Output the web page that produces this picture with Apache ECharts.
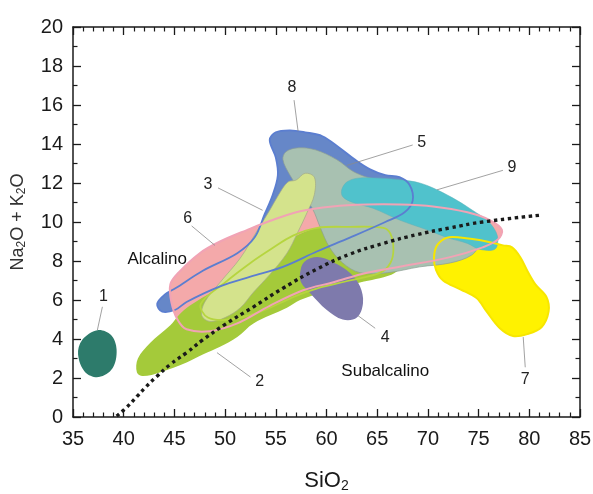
<!DOCTYPE html>
<html>
<head>
<meta charset="utf-8">
<script src="https://cdn.jsdelivr.net/npm/echarts@6/dist/echarts.min.js"></script>
<style>
  html, body { margin: 0; padding: 0; background: #fff; }
  #chart { width: 593px; height: 494px; }
</style>
</head>
<body>
<div id="chart"></div>
<script>
// field outlines, [SiO2, Na2O + K2O]
const field1 = [[37.4, 4.45], [38.75, 4.2], [39.3, 3.45], [38.9, 2.5], [37.55, 2.05], [36.2, 2.3], [35.5, 3.2], [35.9, 3.95]]
const field2 = [[41.3, 2.3], [41.4, 3.0], [42.6, 3.8], [44.6, 4.7], [45.4, 5.2], [46.5, 5.7], [49.0, 6.5], [51.5, 7.3],
  [53.9, 8.15], [56.4, 9.1], [58.4, 9.6], [60.5, 9.8], [64.0, 9.8], [66.8, 9.7], [67.3, 9.3], [67.6, 8.5], [67.3, 7.7],
  [66.4, 7.3], [63.3, 6.9], [60.3, 6.5], [57.4, 6.0], [56.1, 5.6], [52.8, 4.8], [51.2, 4.1], [49.5, 3.6], [47.8, 3.2],
  [46.2, 2.8], [43.6, 2.3], [41.9, 2.1]]
const field2Line = [[47.6, 5.8], [50.0, 6.9], [52.5, 7.9], [54.5, 8.6], [56.7, 9.3], [59.1, 9.7], [62.3, 9.75], [65.6, 9.7],
  [66.3, 9.4], [66.6, 8.6], [66.3, 7.9], [65.3, 7.4], [62.3, 7.0], [59.1, 6.6], [56.7, 6.15], [53.5, 5.4], [50.5, 5.0], [48.3, 5.1]]
const field3 = [[57.0, 12.15], [57.9, 12.5], [58.8, 12.3], [58.8, 11.4], [58.1, 10.5], [57.1, 9.4], [56.1, 8.4], [54.4, 7.3],
  [52.8, 6.4], [51.5, 5.6], [50.0, 5.1], [48.5, 4.9], [47.7, 5.2], [48.0, 5.9], [49.5, 6.9], [51.5, 8.15], [53.1, 9.5],
  [54.4, 10.6], [55.4, 11.5], [56.2, 12.05]]
const field4 = [[57.4, 7.4], [57.8, 7.95], [59.1, 8.2], [60.6, 7.95], [62.3, 7.4], [63.3, 6.7], [63.6, 5.85], [63.0, 5.1],
  [61.6, 5.0], [60.0, 5.5], [58.4, 6.35], [57.5, 6.9]]
const field5 = [[55.7, 13.2], [56.0, 13.6], [57.1, 13.8], [58.9, 13.7], [61.0, 13.2], [62.6, 12.6], [64.0, 12.3], [67.2, 11.9],
  [71.2, 10.9], [74.2, 9.8], [74.9, 8.8], [74.3, 8.3], [72.2, 7.9], [69.2, 7.7], [66.0, 7.4], [63.3, 7.4], [61.6, 7.9],
  [60.3, 8.7], [59.4, 9.7], [58.6, 10.7], [57.4, 11.6], [56.4, 12.4]]
const field6 = [[44.6, 6.8], [45.4, 7.4], [47.5, 8.4], [49.5, 9.0], [52.2, 9.6], [54.4, 10.05], [57.4, 10.55], [60.6, 10.8],
  [64.0, 10.9], [67.2, 10.9], [70.5, 10.8], [73.9, 10.5], [76.1, 10.1], [77.3, 9.6], [76.9, 9.1], [75.4, 8.7], [72.2, 8.2],
  [67.2, 7.7], [64.0, 7.4], [60.6, 6.9], [57.7, 6.5], [54.4, 5.7], [51.2, 4.8], [48.5, 4.4], [46.2, 4.5], [45.3, 5.0], [44.7, 5.9]]
const field7 = [[70.9, 8.8], [71.9, 9.2], [73.2, 9.2], [75.8, 9.0], [77.4, 8.8], [78.3, 8.7], [79.1, 8.2], [79.8, 7.5],
  [80.6, 6.8], [81.7, 6.15], [81.9, 5.4], [81.2, 4.6], [79.8, 4.25], [78.4, 4.15], [77.1, 4.55], [75.8, 5.4], [74.8, 6.1],
  [73.2, 6.55], [71.5, 7.0], [70.8, 7.55], [70.6, 8.15]]
const field8 = [[54.4, 14.2], [55.0, 14.6], [56.4, 14.7], [57.9, 14.6], [59.6, 14.4], [61.3, 13.8], [62.8, 13.2], [64.3, 12.7],
  [65.8, 12.4], [67.2, 12.3], [68.2, 11.9], [68.5, 11.1], [67.7, 10.5], [65.8, 10.0], [62.3, 9.2], [59.1, 8.5], [55.7, 7.7],
  [52.5, 7.2], [49.5, 6.7], [46.2, 5.9], [45.1, 5.5], [43.8, 5.4], [43.3, 5.8], [44.1, 6.3], [45.1, 6.6], [47.8, 7.5],
  [51.2, 8.4], [52.9, 9.2], [53.9, 10.4], [54.7, 11.4], [55.2, 12.4], [55.0, 13.3]]
const field9 = [[61.5, 11.65], [62.0, 12.05], [63.1, 12.25], [65.3, 12.25], [67.5, 12.15], [69.2, 12.0], [70.9, 11.65],
  [72.9, 11.1], [74.4, 10.6], [75.8, 10.1], [76.6, 9.6], [76.9, 9.1], [76.6, 8.6], [75.1, 8.6], [73.9, 8.9], [71.9, 9.2],
  [69.9, 9.6], [67.2, 10.1], [64.6, 10.7], [62.6, 11.0], [61.6, 11.3]]

// alkaline / subalkaline divide
const divide = [[39.3, 0.05], [40.3, 0.5], [41.3, 1.05], [42.2, 1.55], [43.2, 2.05], [44.6, 2.7], [46.2, 3.3], [47.8, 3.95],
  [50.0, 4.75], [52.8, 5.65], [55.7, 6.6], [59.1, 7.6], [62.3, 8.35], [65.6, 8.9], [68.9, 9.35], [72.2, 9.7], [75.4, 10.0], [81.1, 10.35]]

// number labels and their leader lines
const fieldNames = ['1', '2', '3', '4', '5', '6', '7', '8', '9']
const labelAt = [[38.0, 6.15], [53.4, 1.8], [48.3, 11.9], [65.8, 4.05], [69.4, 14.05], [46.3, 10.2], [79.6, 1.9], [56.6, 16.9], [78.3, 12.8]]
const leaderFrom = [[37.9, 5.65], [52.5, 2.05], [49.3, 11.75], [64.8, 4.55], [68.5, 13.95], [46.7, 9.8], [79.6, 2.55], [56.8, 16.25], [77.4, 12.65]]
const leaderTo = [[37.4, 4.45], [49.2, 3.3], [53.7, 10.6], [63.1, 5.2], [62.0, 12.9], [49.0, 8.8], [79.4, 4.1], [57.2, 14.65], [70.9, 11.65]]

const notes = ['Alcalino', 'Subalcalino']
const noteAt = [[43.3, 8.1], [65.8, 2.35]]

const font = '"Liberation Sans", Arial, sans-serif'
const ink = '#1a1a1a'

function area(pts, fill, stroke, width) {
  return {
    type: 'custom',
    data: [[pts[0][0], pts[0][1]]],
    clip: true,
    silent: true,
    renderItem: (params, api) => ({
      type: 'polygon',
      shape: { points: pts.map(p => api.coord(p)), smooth: 0.35 },
      style: { fill: fill || 'none', stroke: stroke || 'none', lineWidth: width || 0 }
    })
  }
}

const axisCommon = {
  type: 'value',
  splitLine: { show: false },
  axisLine: { onZero: false, lineStyle: { color: ink, width: 1.5 } },
  axisTick: { inside: true, length: 8, lineStyle: { color: ink, width: 1.3 } },
  minorTick: { show: true, length: 4.5, lineStyle: { color: ink, width: 1.2 } }
}

const myChart = echarts.init(document.getElementById('chart'), null, { renderer: 'canvas' })

const option = {
  backgroundColor: '#fff',
  animation: false,
  grid: { left: 73, right: 13, top: 27, bottom: 77, outerBoundsMode: 'none' },
  xAxis: [
    {
      ...axisCommon, min: 35, max: 85, interval: 5, position: 'bottom',
      minorTick: { ...axisCommon.minorTick, splitNumber: 5 },
      axisLabel: { fontSize: 20, color: ink, margin: 12, fontFamily: font },
      name: '{a|SiO}{s|2}',
      nameLocation: 'middle',
      nameGap: 52,
      nameTextStyle: {
        rich: {
          a: { fontSize: 22, color: ink, fontFamily: font },
          s: { fontSize: 14, color: ink, fontFamily: font, padding: [10, 0, 0, 0] }
        }
      }
    },
    {
      ...axisCommon, min: 35, max: 85, interval: 5, position: 'top',
      minorTick: { ...axisCommon.minorTick, splitNumber: 5 },
      axisLabel: { show: false }
    }
  ],
  yAxis: [
    {
      ...axisCommon, min: 0, max: 20, interval: 2, position: 'left',
      minorTick: { ...axisCommon.minorTick, splitNumber: 2 },
      axisLabel: { fontSize: 20, color: ink, margin: 10, fontFamily: font },
      name: '{a|Na}{s|2}{a|O + K}{s|2}{a|O}',
      nameLocation: 'middle',
      nameGap: 45,
      nameTextStyle: {
        rich: {
          a: { fontSize: 18, color: '#333', fontFamily: font },
          s: { fontSize: 12, color: '#333', fontFamily: font, padding: [8, 0, 0, 0] }
        }
      }
    },
    {
      ...axisCommon, min: 0, max: 20, interval: 2, position: 'right',
      minorTick: { ...axisCommon.minorTick, splitNumber: 2 },
      axisLabel: { show: false }
    }
  ],
  series: [
    area(field7, '#fff200'),
    area(field8, '#6687c8'),
    area(field6, '#f4a9aa'),
    area(field2, '#a4ca3a'),
    area(field5, '#a8c1b1', '#8d9e94', 0.7),
    area(field3, '#d4e38c', '#a3ab86', 0.7),
    area(field9, '#50c2cc', '#5fb0b8', 0.5),
    area(field4, '#7e7aac'),
    area(field1, '#2d7b6b'),
    area(field2Line, null, '#b6d53f', 1.8),
    area(field8, null, '#5b7ed0', 1.8),
    area(field7, null, '#f7e600', 2),
    area(field6, null, '#f1a3b5', 2),
    {
      type: 'line',
      data: divide,
      smooth: true,
      symbol: 'none',
      silent: true,
      lineStyle: { color: '#1a1a1a', width: 3.4, type: [3.4, 3.6], cap: 'butt' },
      z: 3
    },
    {
      type: 'custom',
      data: leaderFrom.map((p, i) => [p[0], p[1], leaderTo[i][0], leaderTo[i][1]]),
      silent: true,
      z: 3,
      renderItem: (params, api) => {
        const a = api.coord([api.value(0), api.value(1)])
        const b = api.coord([api.value(2), api.value(3)])
        return {
          type: 'line',
          shape: { x1: a[0], y1: a[1], x2: b[0], y2: b[1] },
          style: { stroke: '#8a8a8a', lineWidth: 0.8 }
        }
      }
    },
    {
      type: 'custom',
      data: labelAt.map((p, i) => [p[0], p[1], i]),
      silent: true,
      z: 4,
      renderItem: (params, api) => {
        const c = api.coord([api.value(0), api.value(1)])
        return {
          type: 'text',
          x: c[0], y: c[1],
          style: { text: fieldNames[params.dataIndex], fill: '#222', font: '16px ' + font, align: 'center', verticalAlign: 'middle' }
        }
      }
    },
    {
      type: 'custom',
      data: noteAt.map((p, i) => [p[0], p[1], i]),
      silent: true,
      z: 4,
      renderItem: (params, api) => {
        const c = api.coord([api.value(0), api.value(1)])
        return {
          type: 'text',
          x: c[0], y: c[1],
          style: { text: notes[params.dataIndex], fill: '#111', font: '17px ' + font, align: 'center', verticalAlign: 'middle' }
        }
      }
    }
  ]
}

myChart.setOption(option)
</script>
</body>
</html>
